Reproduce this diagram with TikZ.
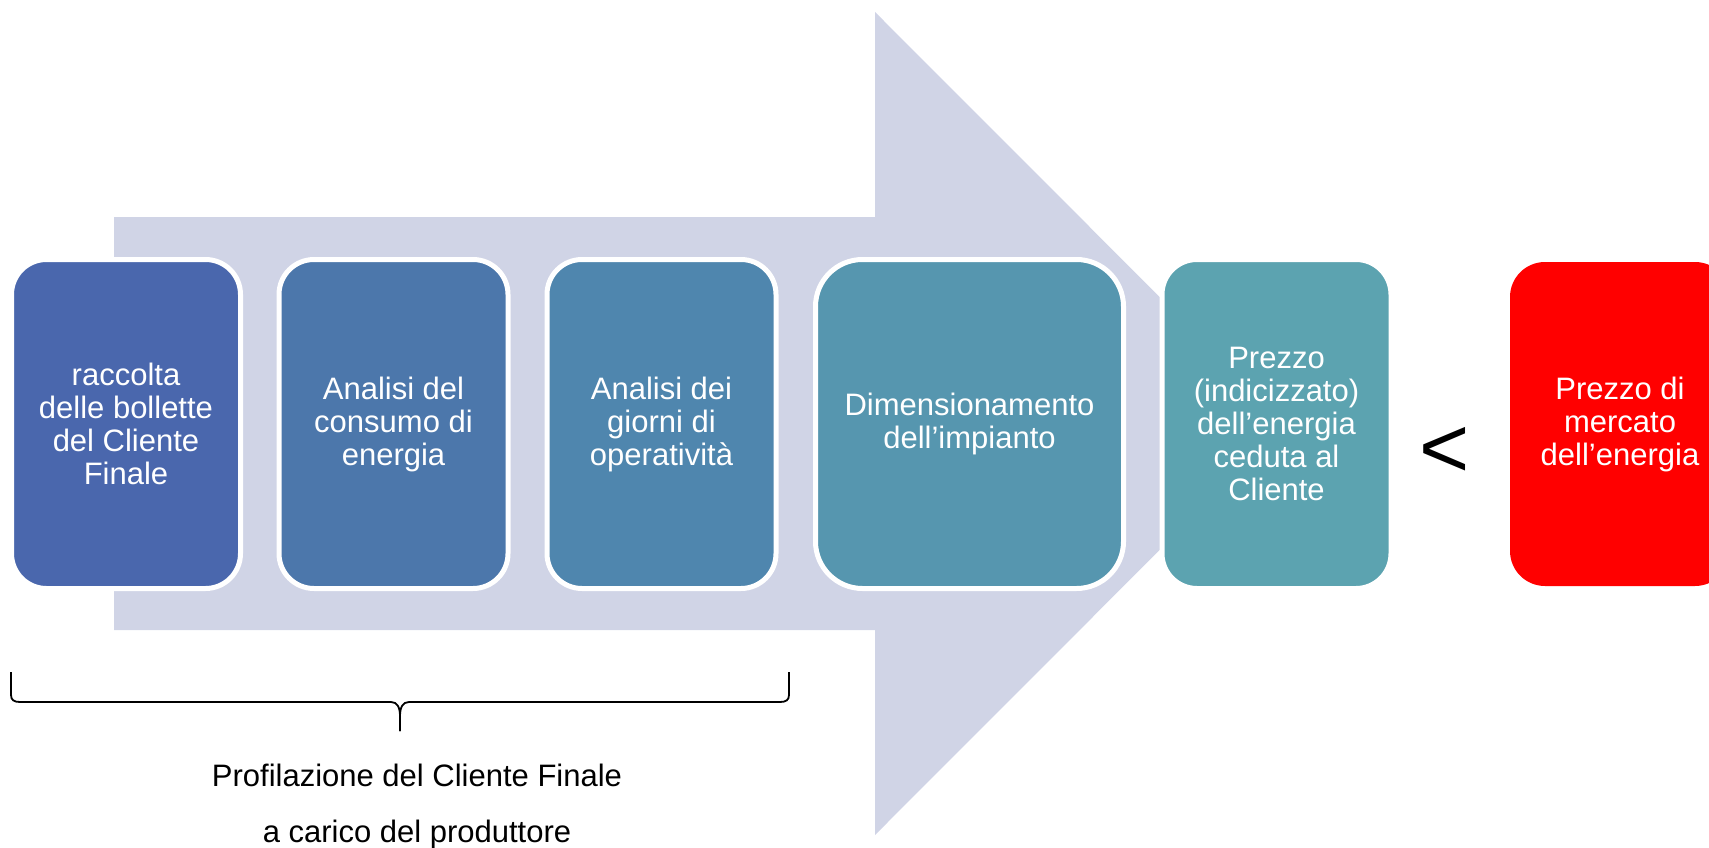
\documentclass[tikz,border=0pt]{standalone}
\usepackage{fontspec}
\setmainfont{Liberation Sans}
\definecolor{arrowc}{HTML}{D0D4E6}
\definecolor{cA}{HTML}{4A67AD}
\definecolor{cB}{HTML}{4C77AB}
\definecolor{cC}{HTML}{4F86AE}
\definecolor{cD}{HTML}{5696AF}
\definecolor{cE}{HTML}{5CA3B0}
\definecolor{cR}{HTML}{FF0000}
\begin{document}
\begin{tikzpicture}[x=1pt,y=-1pt,
  stepbox/.style={draw=white, line width=5pt, rounded corners=35pt, text=white,
    align=center, font=\fontsize{31}{33}\selectfont, inner sep=0pt,
    minimum width=229pt, minimum height=329pt},
  bigfont/.style={font=\fontsize{31}{33}\selectfont},
  bracestyle/.style={draw=black, line width=1.8pt, line join=round}]
\useasboundingbox (0,0) rectangle (1709,848);
% big background arrow
\fill[arrowc] (114,217) -- (875,217) -- (875,12) -- (1286,423.5) -- (875,835) -- (875,630) -- (114,630) -- cycle;
% boxes
\node[stepbox, fill=cA] (b1) at (126,424) {raccolta\\delle bollette\\del Cliente\\Finale};
\node[stepbox, fill=cB] (b2) at (393.5,424) {Analisi del\\consumo di\\energia};
\node[stepbox, fill=cC] (b3) at (661.5,424) {Analisi dei\\giorni di\\operatività};
\node[stepbox, fill=cD, minimum width=308pt, rounded corners=47pt] (b4) at (969.5,424) {Dimensionamento\\dell’impianto};
\node[stepbox, fill=cE] (b5) at (1276.5,424) {Prezzo\\(indicizzato)\\dell’energia\\ceduta al\\Cliente};
\node[stepbox, fill=cR, draw=none, minimum width=220pt, minimum height=324pt] (b6) at (1620,424) {Prezzo di\\mercato\\dell’energia};
% less-than sign
\node[font=\fontsize{86}{90}\selectfont, anchor=base, inner sep=0pt] (lt) at (1445,477) {<};
% brace
\coordinate (bl) at (11,672);
\coordinate (br) at (789,672);
\coordinate (tip) at (400,731);
\draw[bracestyle] (bl) -- (11,695) .. controls (11,700) and (14,702) .. (20,702)
  -- (391,702) .. controls (397,702) and (400,707) .. (400,716) -- (tip);
\draw[bracestyle] (tip) -- (400,716) .. controls (400,707) and (403,702) .. (409,702)
  -- (780,702) .. controls (786,702) and (789,700) .. (789,695) -- (br);
% labels
\node[bigfont, anchor=base, inner sep=0pt] (lab1) at (417,786) {Profilazione del Cliente Finale};
\node[bigfont, anchor=base, inner sep=0pt] (lab2) at (417,842) {a carico del produttore};
\end{tikzpicture}
\end{document}
